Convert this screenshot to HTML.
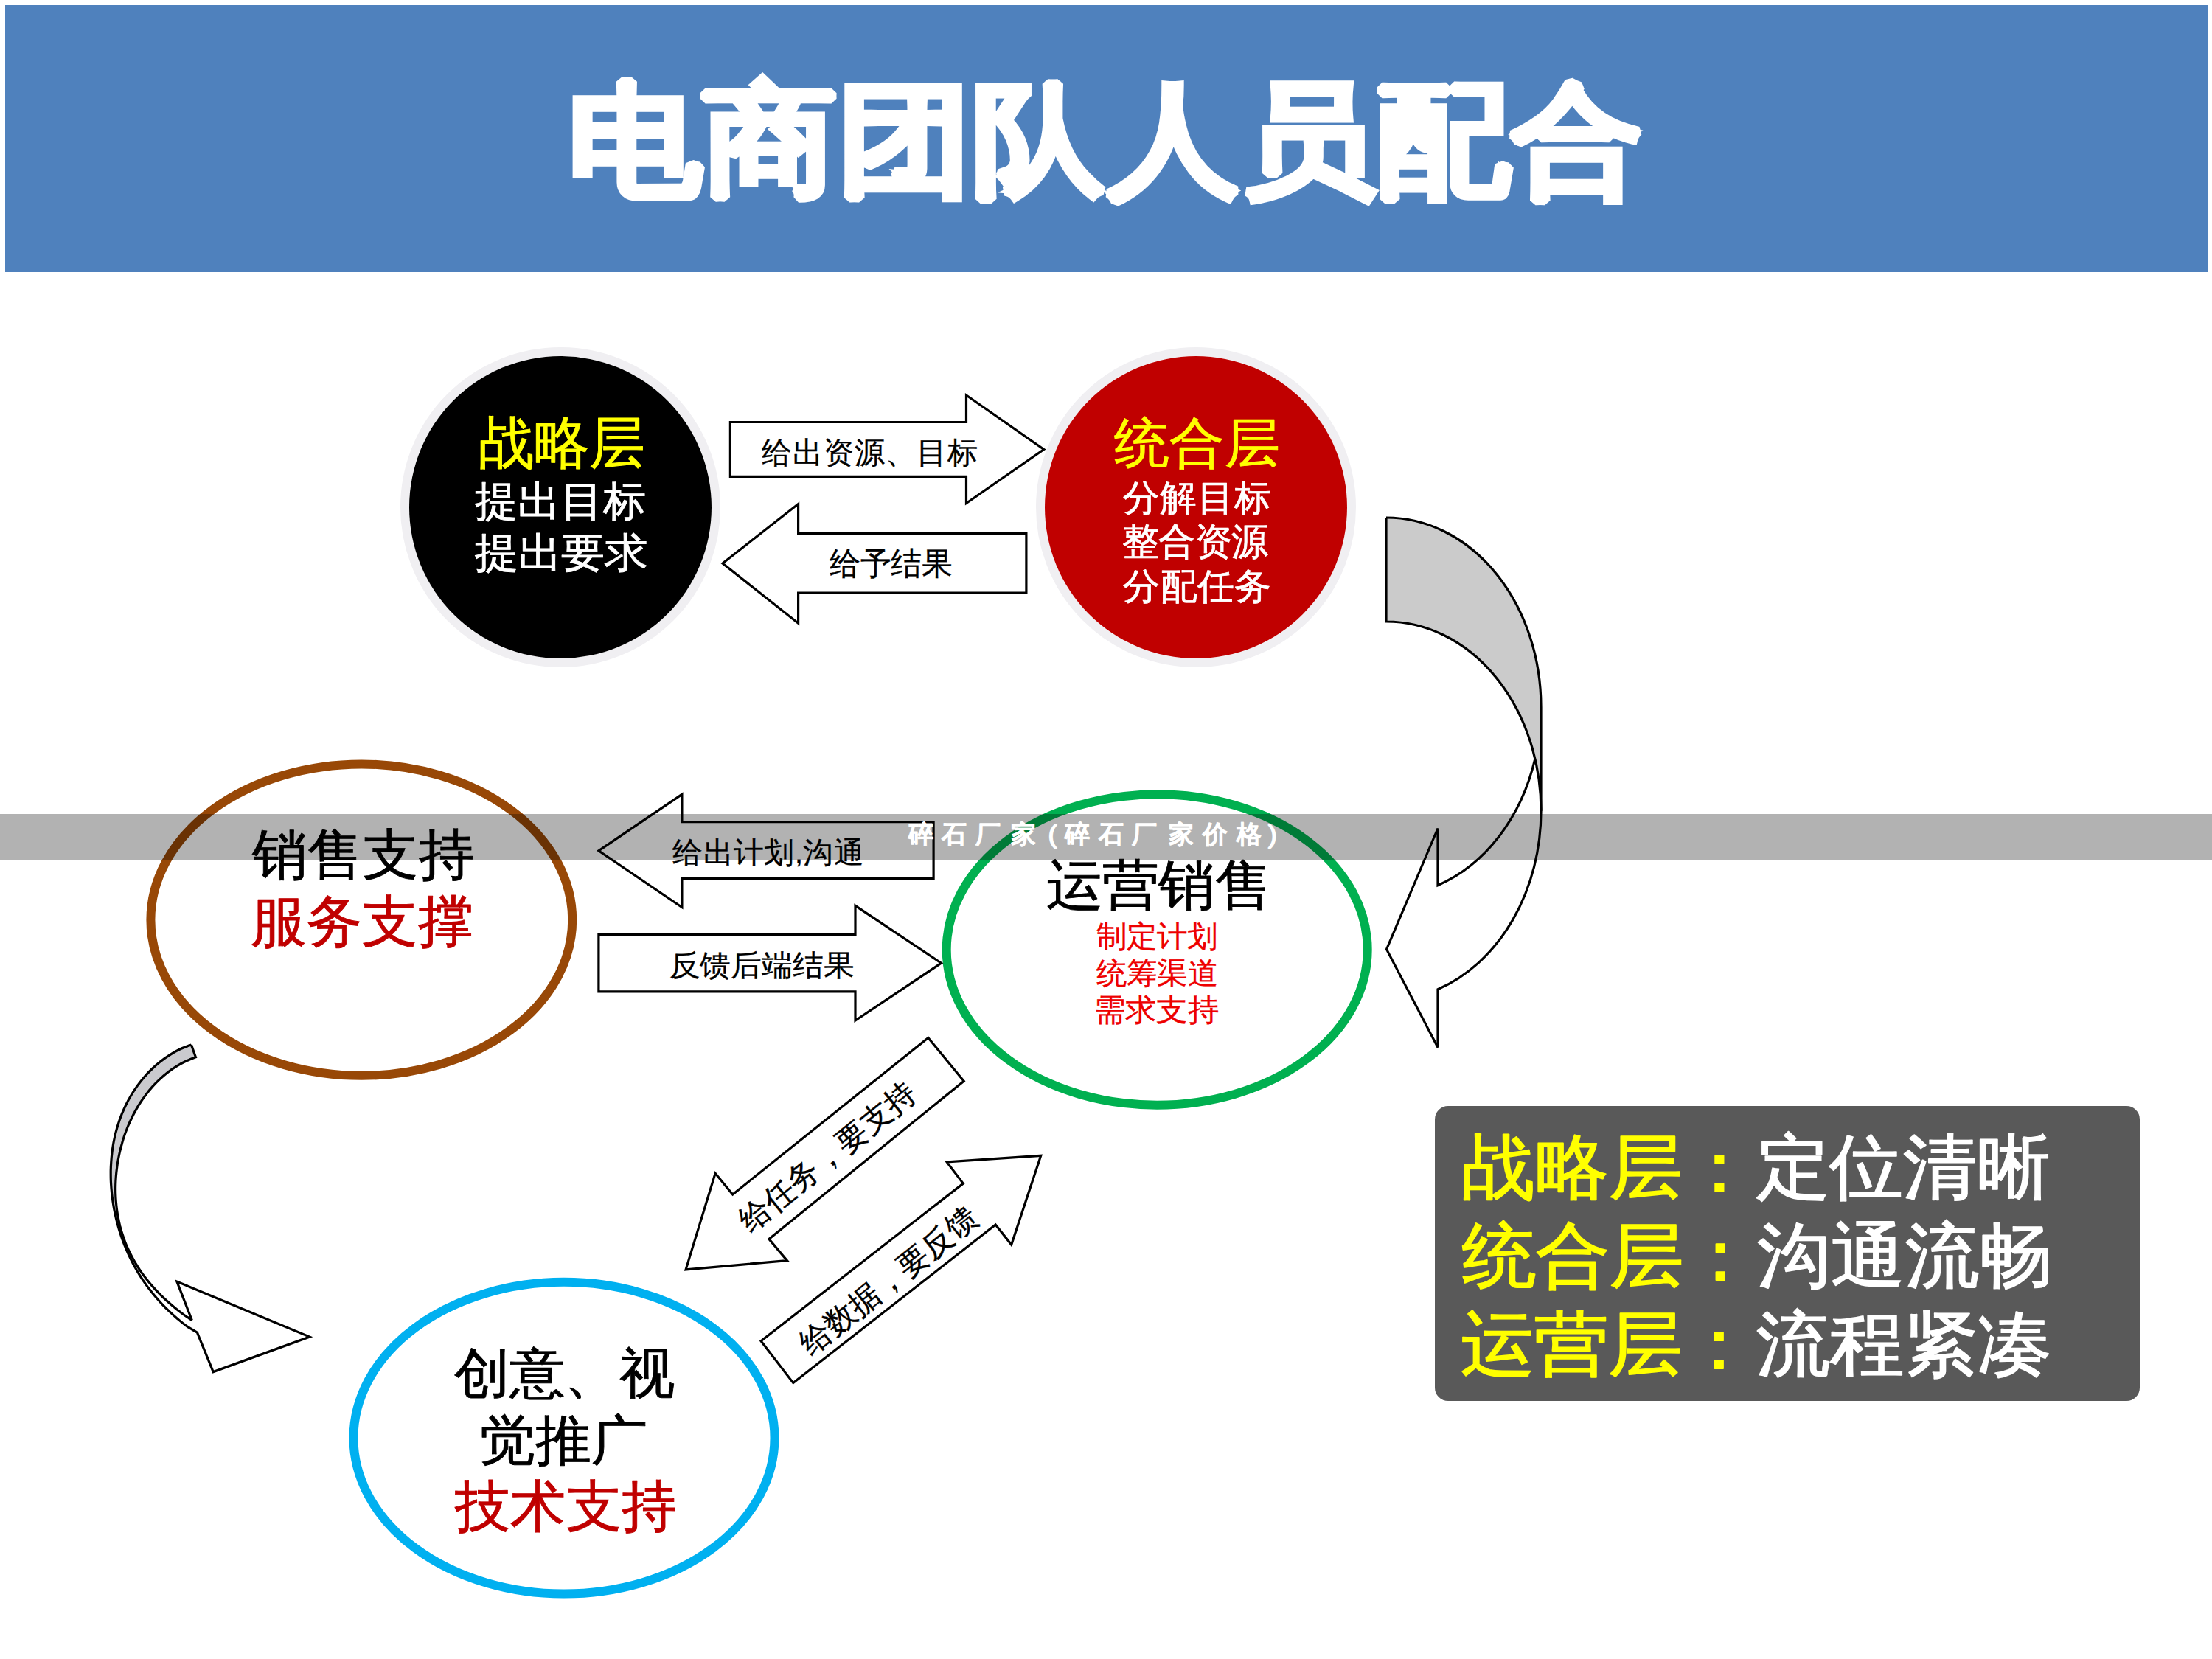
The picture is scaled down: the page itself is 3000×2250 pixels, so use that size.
<!DOCTYPE html>
<html>
<head>
<meta charset="utf-8">
<style>
html,body{margin:0;padding:0;background:#fff;}
body{width:3000px;height:2250px;position:relative;overflow:hidden;font-family:"Liberation Sans",sans-serif;}
svg{position:absolute;left:0;top:0;}
.t{position:absolute;white-space:nowrap;line-height:1;}
</style>
</head>
<body>
<svg width="3000" height="2250" viewBox="0 0 3000 2250">
  <!-- header -->
  <rect x="7" y="7" width="2987" height="362" fill="#4F81BD"/>
  <!-- top circles -->
  <circle cx="760" cy="688" r="211" fill="none" stroke="#F0EFF2" stroke-width="12"/>
  <circle cx="760" cy="688" r="205" fill="#000"/>
  <circle cx="1622" cy="688" r="211" fill="none" stroke="#F0EFF2" stroke-width="12"/>
  <circle cx="1622" cy="688" r="205" fill="#C00000"/>
  <!-- top arrows -->
  <polygon points="990.4,572.5 1310.5,572.5 1310.5,536 1415.7,609.5 1310.5,682.5 1310.5,646.3 990.4,646.3" fill="#fff" stroke="#000" stroke-width="3.2"/>
  <polygon points="980,764 1082.6,683.6 1082.6,723.3 1391.9,723.3 1391.9,804 1082.6,804 1082.6,845.3" fill="#fff" stroke="#000" stroke-width="3.2"/>
  <!-- big curved arrow -->
  <path d="M 2090 958.7 L 2090 1099.7 A 210 256.7 0 0 1 1950 1341.7 L 1950 1420.5 L 1880.5 1287.5 L 1950 1123.5 L 1950 1200.7 A 210 256.7 0 0 0 2090 958.7 Z" fill="#fff"/>
  <path d="M 1880 702 A 210 256.7 0 0 1 2090 958.7 L 2090 1099.7 A 210 256.7 0 0 0 1880 843 Z" fill="#CBCBCB"/>
  <path d="M 1880 702 A 210 256.7 0 0 1 2090 958.7 L 2090 1099.7 A 210 256.7 0 0 1 1950 1341.7 L 1950 1420.5 L 1880.5 1287.5 L 1950 1123.5 L 1950 1200.7 A 210 256.7 0 0 0 2081.9 1029.2" fill="none" stroke="#000" stroke-width="3.2" stroke-linejoin="miter"/>
  <path d="M 1880 702 L 1880 843 A 210 256.7 0 0 1 2090 1099.7" fill="none" stroke="#000" stroke-width="3.2"/>
  <!-- ellipses -->
  <ellipse cx="490.3" cy="1247.6" rx="285.9" ry="211.2" fill="none" stroke="#984807" stroke-width="12"/>
  <ellipse cx="1569.2" cy="1288" rx="285.5" ry="210.7" fill="none" stroke="#00B050" stroke-width="12"/>
  <ellipse cx="765" cy="1950.2" rx="285.5" ry="211.4" fill="none" stroke="#00B0F0" stroke-width="12"/>
  <!-- middle arrows -->
  <polygon points="811.9,1153.8 924.9,1077.3 924.9,1114.6 1266.1,1114.6 1266.1,1191.4 924.9,1191.4 924.9,1230.6" fill="#fff" stroke="#000" stroke-width="3.2"/>
  <polygon points="811.9,1267.5 1160,1267.5 1160,1228.3 1276.5,1306.2 1160,1384 1160,1344.8 811.9,1344.8" fill="#fff" stroke="#000" stroke-width="3.2"/>
  <!-- diagonal arrows -->
  <polygon points="1258.9,1407.5 1307.2,1466.2 1042.9,1680.4 1067.5,1709.6 930.1,1721.9 970.1,1591.3 993.7,1619.9" fill="#fff" stroke="#000" stroke-width="3.2"/>
  <polygon points="1032.1,1818.7 1306.3,1605.1 1284.1,1575.9 1411.7,1567.3 1371.7,1688.1 1350.2,1661 1075.8,1875.6" fill="#fff" stroke="#000" stroke-width="3.2"/>
  <!-- small curved arrow -->
  <path d="M 259.4 1416.9 C 256.9 1417.9 249.2 1420.6 244.4 1422.8 C 239.5 1425.1 234.8 1427.8 230.3 1430.6 C 225.8 1433.5 221.5 1436.6 217.4 1439.8 C 213.2 1443.1 209.3 1446.6 205.6 1450.2 C 201.8 1453.8 198.3 1457.6 195.0 1461.5 C 191.7 1465.3 188.6 1469.4 185.7 1473.4 C 182.8 1477.5 180.1 1481.7 177.6 1485.9 C 175.1 1490.1 172.8 1494.4 170.7 1498.7 C 168.6 1503.0 166.7 1507.4 164.9 1511.7 C 163.2 1516.1 161.7 1520.5 160.3 1524.8 C 158.9 1529.2 157.7 1533.5 156.6 1537.8 C 155.5 1542.2 154.6 1546.5 153.8 1550.8 C 153.0 1555.0 152.4 1559.3 151.9 1563.5 C 151.4 1567.7 151.0 1571.9 150.7 1576.1 C 150.4 1580.2 150.3 1584.4 150.2 1588.4 C 150.2 1592.5 150.2 1596.6 150.3 1600.6 C 150.5 1604.6 150.7 1608.6 151.0 1612.6 C 151.4 1616.5 151.8 1620.4 152.3 1624.3 C 152.8 1628.2 153.4 1632.1 154.0 1636.0 C 154.7 1639.8 155.5 1643.7 156.3 1647.5 C 157.1 1651.3 158.0 1655.1 159.0 1658.9 C 160.0 1662.7 161.1 1666.4 162.3 1670.2 C 163.5 1674.0 165.5 1679.6 166.1 1681.5 L 168.2 1680.4 C 167.6 1678.6 165.6 1673.0 164.5 1669.2 C 163.4 1665.5 162.5 1661.7 161.6 1657.9 C 160.7 1654.1 160.0 1650.3 159.4 1646.5 C 158.7 1642.7 158.2 1638.9 157.8 1635.1 C 157.4 1631.3 157.1 1627.5 156.9 1623.6 C 156.7 1619.8 156.6 1616.0 156.6 1612.1 C 156.7 1608.3 156.8 1604.5 157.0 1600.6 C 157.2 1596.8 157.5 1593.0 157.9 1589.1 C 158.3 1585.3 158.9 1581.4 159.5 1577.6 C 160.1 1573.7 160.8 1569.9 161.6 1566.0 C 162.5 1562.1 163.4 1558.2 164.4 1554.4 C 165.5 1550.5 166.6 1546.6 167.9 1542.7 C 169.2 1538.8 170.6 1534.9 172.1 1531.1 C 173.6 1527.2 175.3 1523.3 177.1 1519.4 C 178.9 1515.5 180.8 1511.7 182.9 1507.9 C 185.0 1504.0 187.2 1500.2 189.6 1496.4 C 192.1 1492.7 194.6 1489.0 197.4 1485.3 C 200.1 1481.7 203.0 1478.1 206.1 1474.6 C 209.2 1471.1 212.5 1467.7 215.9 1464.4 C 219.4 1461.1 223.0 1458.0 226.8 1455.0 C 230.6 1452.0 234.6 1449.2 238.7 1446.6 C 242.9 1444.0 247.2 1441.6 251.6 1439.4 C 256.1 1437.3 263.1 1434.7 265.4 1433.8 Z" fill="#CACACE" stroke="none"/>
  <path d="M 166.1 1681.5 C 166.8 1683.2 168.7 1688.3 170.1 1691.7 C 171.5 1695.1 173.0 1698.5 174.5 1701.9 C 176.1 1705.3 177.8 1708.7 179.5 1712.1 C 181.3 1715.5 183.2 1718.9 185.1 1722.2 C 187.1 1725.6 189.1 1729.0 191.3 1732.3 C 193.4 1735.7 195.7 1739.0 198.1 1742.3 C 200.5 1745.7 203.0 1749.0 205.6 1752.3 C 208.2 1755.6 210.9 1758.9 213.8 1762.1 C 216.7 1765.4 219.7 1768.6 222.8 1771.8 C 225.9 1775.0 229.2 1778.2 232.6 1781.3 C 236.0 1784.5 239.6 1787.6 243.3 1790.6 C 247.0 1793.7 250.8 1796.9 254.8 1799.7 C 258.9 1802.5 265.4 1806.0 267.5 1807.3 L 289.2 1860.6 L 419.9 1813.1 L 239.9 1738.1 L 260.3 1790.5 C 258.5 1789.3 253.1 1785.7 249.7 1783.2 C 246.2 1780.8 242.9 1778.2 239.7 1775.6 C 236.5 1773.1 233.4 1770.5 230.4 1767.9 C 227.4 1765.2 224.5 1762.6 221.7 1759.9 C 218.8 1757.3 216.1 1754.6 213.5 1751.8 C 210.9 1749.1 208.3 1746.3 205.9 1743.5 C 203.4 1740.7 201.1 1737.9 198.8 1735.1 C 196.6 1732.2 194.4 1729.3 192.3 1726.4 C 190.2 1723.4 188.3 1720.5 186.4 1717.5 C 184.5 1714.5 182.7 1711.5 181.0 1708.4 C 179.3 1705.4 177.7 1702.3 176.2 1699.2 C 174.7 1696.2 173.2 1693.0 171.9 1689.9 C 170.6 1686.8 168.8 1682.0 168.2 1680.4 Z" fill="#fff" stroke="none"/>
  <path d="M 259.4 1416.9 C 256.9 1417.9 249.3 1420.5 244.5 1422.8 C 239.6 1425.1 234.9 1427.7 230.5 1430.6 C 226.0 1433.4 221.6 1436.5 217.5 1439.7 C 213.4 1442.9 209.5 1446.4 205.8 1450.0 C 202.0 1453.6 198.5 1457.4 195.2 1461.2 C 191.9 1465.1 188.8 1469.1 185.9 1473.1 C 183.0 1477.2 180.3 1481.3 177.8 1485.5 C 175.3 1489.7 173.0 1494.0 170.9 1498.3 C 168.8 1502.6 166.9 1506.9 165.1 1511.2 C 163.4 1515.6 161.8 1519.9 160.4 1524.2 C 159.0 1528.6 157.8 1532.9 156.7 1537.2 C 155.7 1541.5 154.7 1545.8 153.9 1550.1 C 153.2 1554.4 152.5 1558.6 152.0 1562.8 C 151.5 1567.0 151.1 1571.2 150.8 1575.3 C 150.5 1579.5 150.3 1583.6 150.2 1587.6 C 150.2 1591.7 150.2 1595.8 150.3 1599.8 C 150.4 1603.8 150.7 1607.7 151.0 1611.7 C 151.3 1615.6 151.7 1619.5 152.2 1623.4 C 152.7 1627.3 153.2 1631.2 153.9 1635.0 C 154.5 1638.9 155.3 1642.7 156.1 1646.5 C 156.9 1650.3 157.8 1654.1 158.8 1657.8 C 159.8 1661.6 160.8 1665.4 162.0 1669.1 C 163.1 1672.9 164.4 1676.6 165.7 1680.4 C 167.1 1684.1 168.5 1687.8 170.0 1691.5 C 171.5 1695.3 173.2 1699.0 174.9 1702.7 C 176.6 1706.4 178.5 1710.1 180.4 1713.8 C 182.4 1717.5 184.5 1721.2 186.7 1724.9 C 188.8 1728.5 191.2 1732.2 193.6 1735.9 C 196.1 1739.5 198.6 1743.2 201.3 1746.8 C 204.1 1750.4 206.9 1754.0 209.9 1757.6 C 212.9 1761.2 216.1 1764.7 219.4 1768.3 C 222.7 1771.8 226.2 1775.3 229.8 1778.7 C 233.4 1782.2 237.2 1785.6 241.2 1788.9 C 245.2 1792.3 249.3 1795.8 253.7 1798.9 C 258.1 1801.9 265.2 1805.9 267.5 1807.3 L 289.2 1860.6 L 419.9 1813.1 L 239.9 1738.1 L 260.3 1790.5" fill="none" stroke="#000" stroke-width="3.2" stroke-linejoin="miter"/>
  <path d="M 259.4 1416.9 L 265.4 1433.8 C 263.2 1434.7 256.3 1437.2 252.0 1439.3 C 247.7 1441.3 243.4 1443.7 239.4 1446.2 C 235.3 1448.7 231.4 1451.4 227.7 1454.3 C 224.0 1457.2 220.4 1460.2 217.0 1463.4 C 213.6 1466.5 210.4 1469.8 207.3 1473.2 C 204.3 1476.6 201.4 1480.0 198.7 1483.6 C 196.0 1487.1 193.4 1490.7 191.0 1494.4 C 188.6 1498.0 186.4 1501.7 184.3 1505.4 C 182.2 1509.1 180.2 1512.9 178.4 1516.7 C 176.6 1520.4 174.9 1524.2 173.3 1528.0 C 171.8 1531.8 170.4 1535.5 169.0 1539.3 C 167.7 1543.1 166.5 1546.9 165.5 1550.7 C 164.4 1554.5 163.4 1558.2 162.5 1562.0 C 161.6 1565.8 160.9 1569.5 160.2 1573.3 C 159.5 1577.0 158.9 1580.8 158.5 1584.5 C 158.0 1588.3 157.6 1592.0 157.3 1595.8 C 157.0 1599.5 156.8 1603.2 156.7 1607.0 C 156.6 1610.7 156.6 1614.4 156.7 1618.2 C 156.8 1621.9 157.0 1625.6 157.3 1629.3 C 157.6 1633.1 158.0 1636.8 158.5 1640.5 C 159.0 1644.2 159.6 1647.9 160.3 1651.6 C 161.0 1655.3 161.8 1659.0 162.7 1662.7 C 163.7 1666.3 164.7 1670.0 165.9 1673.6 C 167.1 1677.3 168.3 1680.9 169.7 1684.5 C 171.1 1688.1 172.6 1691.7 174.3 1695.3 C 175.9 1698.8 177.7 1702.3 179.6 1705.8 C 181.4 1709.3 183.5 1712.8 185.6 1716.2 C 187.7 1719.6 189.9 1723.0 192.3 1726.4 C 194.7 1729.7 197.2 1733.0 199.8 1736.3 C 202.4 1739.5 205.1 1742.8 208.0 1745.9 C 210.8 1749.1 213.8 1752.2 216.9 1755.3 C 220.0 1758.4 223.2 1761.5 226.6 1764.5 C 229.9 1767.5 233.4 1770.5 237.0 1773.4 C 240.6 1776.4 244.3 1779.3 248.2 1782.2 C 252.1 1785.0 258.3 1789.1 260.3 1790.5" fill="none" stroke="#000" stroke-width="3.2"/>
  <!-- summary box -->
  <rect x="1946" y="1500" width="956" height="400" rx="18" ry="18" fill="#595959"/>
</svg>

<!-- TEXT -->
<svg width="3000" height="2250" viewBox="0 0 3000 2250" font-family="Liberation Sans, sans-serif" stroke-linejoin="round">
<text transform="translate(770.4 248.2) scale(1 0.9153)" font-size="182.8" font-weight="bold" stroke-linejoin="miter" stroke-miterlimit="1.5" fill="#fff" stroke="#fff" stroke-width="8.04">电商团队人员配合</text>
<text transform="translate(648.7 626.5) scale(1 1.0178)" font-size="75.2" fill="#FFFF00" stroke="#FFFF00" stroke-width="0.90">战略层</text>
<text transform="translate(644.2 698.7) scale(1 0.9635)" font-size="58.4" fill="#fff" stroke="#fff" stroke-width="0.93">提出目标</text>
<text transform="translate(644.2 769.0) scale(1 0.9491)" font-size="58.5" fill="#fff" stroke="#fff" stroke-width="0.94">提出要求</text>
<text transform="translate(1511.0 626.0) scale(1 0.9742)" font-size="75.3" fill="#FFFF00" stroke="#FFFF00" stroke-width="0.90">统合层</text>
<text transform="translate(1523.1 691.7) scale(1 0.9874)" font-size="49.9" fill="#fff" stroke="#fff" stroke-width="0.80">分解目标</text>
<text transform="translate(1521.8 751.8) scale(1 1.0215)" font-size="49.9" fill="#fff" stroke="#fff" stroke-width="0.80">整合资源</text>
<text transform="translate(1523.1 811.5) scale(1 0.9828)" font-size="50.0" fill="#fff" stroke="#fff" stroke-width="0.80">分配任务</text>
<text transform="translate(1032.7 627.9) scale(1 0.9971)" font-size="41.6" fill="#000" stroke="#000" stroke-width="0.33">给出资源、目标</text>
<text transform="translate(1125.0 779.0) scale(1 1.0230)" font-size="41.7" fill="#000" stroke="#000" stroke-width="0.33">给予结果</text>
<text transform="translate(342.2 1185.2) scale(1 0.9972)" font-size="74.8" fill="#000" stroke="#000" stroke-width="0.90">销售支持</text>
<text transform="translate(340.0 1275.7) scale(1 1.0110)" font-size="75.2" fill="#C00000" stroke="#C00000" stroke-width="0.90">服务支撑</text>
<text transform="translate(912.2 1169.6) scale(1 0.9804)" font-size="41.3" fill="#000" stroke="#000" stroke-width="0.33">给出计划,沟通</text>
<text transform="translate(907.5 1322.6) scale(1 0.9569)" font-size="41.8" fill="#000" stroke="#000" stroke-width="0.33">反馈后端结果</text>
<text transform="translate(1418.5 1226.0) scale(1 0.9618)" font-size="76.7" fill="#000" stroke="#000" stroke-width="0.92">运营销售</text>
<text transform="translate(1486.5 1284.0) scale(1 0.9870)" font-size="41.5" fill="#EE0000" stroke="#EE0000" stroke-width="0.33">制定计划</text>
<text transform="translate(1486.9 1333.9) scale(1 0.9883)" font-size="41.7" fill="#EE0000" stroke="#EE0000" stroke-width="0.33">统筹渠道</text>
<text transform="translate(1484.0 1383.7) scale(1 0.9905)" font-size="42.1" fill="#EE0000" stroke="#EE0000" stroke-width="0.34">需求支持</text>
<text transform="translate(615.8 1888.2) scale(1 0.9806)" font-size="75.1" fill="#000" stroke="#000" stroke-width="0.90">创意、视</text>
<text transform="translate(650.2 1978.8) scale(1 0.9736)" font-size="76.5" fill="#000" stroke="#000" stroke-width="0.92">觉推广</text>
<text transform="translate(616.5 2069.3) scale(1 1.0113)" font-size="75.1" fill="#C00000" stroke="#C00000" stroke-width="0.90">技术支持</text>
<text transform="translate(1982.2 1616.3) scale(1 0.9627)" font-size="100.0" stroke-width="2.00"><tspan fill="#FFFF00" stroke="#FFFF00">战略层：</tspan><tspan fill="#fff" stroke="#fff">定位清晰</tspan></text>
<text transform="translate(1982.6 1735.7) scale(1 0.9561)" font-size="100.0" stroke-width="2.00"><tspan fill="#FFFF00" stroke="#FFFF00">统合层：</tspan><tspan fill="#fff" stroke="#fff">沟通流畅</tspan></text>
<text transform="translate(1980.6 1856.1) scale(1 0.9547)" font-size="100.2" stroke-width="2.00"><tspan fill="#FFFF00" stroke="#FFFF00">运营层：</tspan><tspan fill="#fff" stroke="#fff">流程紧凑</tspan></text>
<text x="1122.4" y="1583.1" font-size="42" text-anchor="middle" fill="#000" stroke="#000" stroke-width="0.34" transform="rotate(-38.9 1122.4 1568.6)">给任务，要支持</text>
<text x="1205.3" y="1751.0" font-size="42" text-anchor="middle" fill="#000" stroke="#000" stroke-width="0.34" transform="rotate(-38.5 1205.3 1736.5)">给数据，要反馈</text>
</svg>

<!-- watermark band -->
<div style="position:absolute;left:0;top:1104px;width:3000px;height:63px;background:rgba(0,0,0,0.3);"></div>
<svg width="3000" height="2250" viewBox="0 0 3000 2250" font-family="Liberation Sans, sans-serif">
<text x="1248.5" y="1142.6" font-size="34" text-anchor="middle" fill="#fff" stroke="#fff" stroke-width="1.8" stroke-linejoin="round">碎</text>
<text x="1294.0" y="1142.6" font-size="34" text-anchor="middle" fill="#fff" stroke="#fff" stroke-width="1.8" stroke-linejoin="round">石</text>
<text x="1340.4" y="1142.6" font-size="34" text-anchor="middle" fill="#fff" stroke="#fff" stroke-width="1.8" stroke-linejoin="round">厂</text>
<text x="1387.7" y="1142.6" font-size="34" text-anchor="middle" fill="#fff" stroke="#fff" stroke-width="1.8" stroke-linejoin="round">家</text>
<text x="1427.5" y="1142.6" font-size="34" text-anchor="middle" fill="#fff" stroke="#fff" stroke-width="1.8" stroke-linejoin="round">(</text>
<text x="1460.5" y="1142.6" font-size="34" text-anchor="middle" fill="#fff" stroke="#fff" stroke-width="1.8" stroke-linejoin="round">碎</text>
<text x="1507.2" y="1142.6" font-size="34" text-anchor="middle" fill="#fff" stroke="#fff" stroke-width="1.8" stroke-linejoin="round">石</text>
<text x="1551.8" y="1142.6" font-size="34" text-anchor="middle" fill="#fff" stroke="#fff" stroke-width="1.8" stroke-linejoin="round">厂</text>
<text x="1602.0" y="1142.6" font-size="34" text-anchor="middle" fill="#fff" stroke="#fff" stroke-width="1.8" stroke-linejoin="round">家</text>
<text x="1647.5" y="1142.6" font-size="34" text-anchor="middle" fill="#fff" stroke="#fff" stroke-width="1.8" stroke-linejoin="round">价</text>
<text x="1693.6" y="1142.6" font-size="34" text-anchor="middle" fill="#fff" stroke="#fff" stroke-width="1.8" stroke-linejoin="round">格</text>
<text x="1725.8" y="1142.6" font-size="34" text-anchor="middle" fill="#fff" stroke="#fff" stroke-width="1.8" stroke-linejoin="round">)</text>
</svg>
</body>
</html>
